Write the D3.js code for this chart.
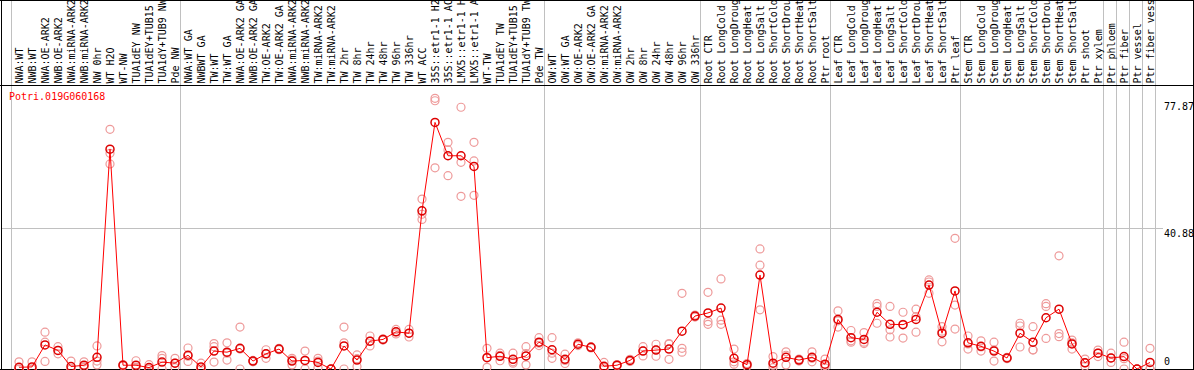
<!DOCTYPE html>
<html><head><meta charset="utf-8">
<script src="https://cdn.jsdelivr.net/npm/d3@7"></script>
<style>
body{margin:0;background:#fff}
svg{display:block}
text{font-family:"DejaVu Sans Mono",monospace;font-size:10px}
</style>
</head><body><svg id="c" width="1194" height="370"></svg>
<script>
const categories = [
"NWA:WT","NWB:WT","NWA:OE-ARK2","NWB:OE-ARK2","NWA:miRNA-ARK2","NWB:miRNA-ARK2","NW 0hr","WT H2O","WT-NW","TUA1dEY NW","TUA1dEY+TUB15","TUA1dY+TUB9 NW","Pde NW",
"NWA:WT GA","NWBWT GA","TW:WT","TW:WT GA","NWA:OE-ARK2 GA","NWB:OE-ARK2 GA","TW:OE-ARK2","TW:OE-ARK2 GA","NWA:miRNA-ARK2","NWB:miRNA-ARK2","TW:miRNA-ARK2","TW:miRNA-ARK2","TW 2hr","TW 8hr","TW 24hr","TW 48hr","TW 96hr","TW 336hr","WT ACC","35S::etr1-1 H2O","35S::etr1-1 ACC","LMX5::etr1-1 H2O","LMX5::etr1-1 ACC","WT-TW","TUA1dEY TW","TUA1dEY+TUB15","TUA1dY+TUB9 TW","Pde TW",
"OW:WT","OW:WT GA","OW:OE-ARK2","OW:OE-ARK2 GA","OW:miRNA-ARK2","OW:miRNA-ARK2","OW 2hr","OW 8hr","OW 24hr","OW 48hr","OW 96hr","OW 336hr",
"Root CTR","Root LongCold","Root LongDrought","Root LongHeat","Root LongSalt","Root ShortCold","Root ShortDrought","Root ShortHeat","Root ShortSalt","Ptr root",
"Leaf CTR","Leaf LongCold","Leaf LongDrought","Leaf LongHeat","Leaf LongSalt","Leaf ShortCold","Leaf ShortDrought","Leaf ShortHeat","Leaf ShortSalt","Ptr leaf",
"Stem CTR","Stem LongCold","Stem LongDrought","Stem LongHeat","Stem LongSalt","Stem ShortCold","Stem ShortDrought","Stem ShortHeat","Stem ShortSalt","Ptr shoot","Ptr xylem",
"Ptr phloem","Ptr fiber","Ptr vessel","Ptr fiber vessel"];

const means = [
0.5,0.6,7.0,5.4,0.7,1.1,3.4,63.9,1.1,1.1,0.4,2.0,1.7,
4.0,0.6,5.2,4.9,6.0,2.3,4.4,5.8,2.3,2.5,1.9,0,6.7,2.6,8.1,8.6,10.8,10.4,46.0,71.7,62.0,62.0,58.9,3.3,3.7,2.8,3.8,7.8,
5.6,2.8,7.2,6.3,0.8,1.1,2.5,5.2,5.5,5.8,11.0,15.4,
16.3,17.7,3.1,1.25,27.3,1.7,3.4,2.6,3.4,1.4,
14.4,9.1,8.6,16.5,13.0,12.9,14.4,24.4,10.4,22.7,
7.6,6.6,5.2,3.2,10.4,7.8,14.9,17.4,7.3,1.8,4.6,
3.2,3.6,0,1.9];

const rep1 = [
2.1,2.1,10.7,6.5,2.3,2.1,6.7,69.7,1.3,2.4,1.25,3.9,3.1,
6.1,1.7,7.4,7.6,12.2,2.5,5.6,6.0,3.1,5.2,3.1,0,12.2,4.1,9.6,8.8,11.5,11.5,49.4,78.7,65.9,76.1,65.9,6.0,4.6,4.6,6.5,9.1,
9.1,4.3,7.6,6.5,1.9,1.3,2.8,6.5,7.2,7.4,22.0,15.7,
22.3,26.2,5.8,1.6,34.9,3.6,5.0,2.9,5.0,2.9,
16.9,11.2,10.6,19.0,18.2,16.5,17.4,25.9,12.3,38.0,
9.6,8.2,7.8,3.4,13.3,12.3,19.0,32.9,8.4,2.9,5.5,
4.6,7.8,0,6.0];

const rep2 = [
0,0,7.8,5.4,0,0.6,2.3,62.7,1.0,0.5,0,3.1,1.7,
3.7,0,6.5,4.6,5.8,2.3,4.4,5.8,2.6,2.4,2.3,0,7.6,3.0,8.1,8.6,10.8,10.4,45.0,78.0,63.7,60.1,60.5,3.4,4.0,2.1,4.5,7.5,
4.6,2.5,7.2,6.3,0.5,1.0,2.5,5.3,5.6,7.2,6.0,15.4,
13.8,14.2,2.1,1.4,30.2,1.1,4.0,2.6,3.1,1.0,
14.0,8.2,7.8,18.2,11.4,13.0,15.2,25.3,11.0,18.6,
7.3,6.4,5.5,3.2,12.5,5.6,18.2,10.3,7.6,1.8,4.6,
3.2,3.0,0,0];

const rep3 = [
0,0,2.2,4.4,0,0.5,1.2,59.6,1.0,0.5,0,0,0.4,
2.2,0,2.0,2.6,0,2.1,3.1,5.6,1.2,0,0.4,0,0,0.7,6.7,8.4,10.2,9.3,43.5,58.5,56.2,50.2,50.5,0.5,2.4,1.7,1.2,6.8,
3.1,1.6,6.8,6.1,0,1.0,2.2,3.8,3.7,2.8,4.9,15.1,
13.0,13.0,1.4,0.7,17.2,0.4,1.2,2.3,2.1,0.3,
12.2,7.8,7.4,13.3,9.3,9.0,10.7,22.0,7.9,11.6,
5.8,5.2,2.3,3.0,6.4,5.5,8.9,9.4,5.8,0.8,3.6,
1.9,0,0,0];

const yTicks = [0, 40.88, 77.87];
const gridTicks = [40.88];
const groupStarts = [0,13,41,53,63,73,84,85,86,87];
const geneName = "Potri.019G060168";

const svg = d3.select("#c");
const x = d3.scaleBand().domain(d3.range(categories.length)).range([11,1155]).padding(0);
const px = i => x(i) + 8;
const y = d3.scaleLinear().domain([0, 40.88]).range([369, 228.4]);

// vertical group lines
const vx = groupStarts.map(i => x(i)).concat([x.range()[1]]);
svg.append("g").selectAll("line").data(vx).join("line")
  .attr("x1", d => Math.round(d) + 0.5).attr("x2", d => Math.round(d) + 0.5)
  .attr("y1", 0).attr("y2", 370)
  .attr("stroke", "#c0c0c0").attr("stroke-width", 1).attr("shape-rendering","crispEdges");

// horizontal grid
svg.append("g").selectAll("line").data(gridTicks).join("line")
  .attr("x1", 1).attr("x2", 1163)
  .attr("y1", d => Math.round(y(d)) + 0.5).attr("y2", d => Math.round(y(d)) + 0.5)
  .attr("stroke", "#c0c0c0").attr("shape-rendering","crispEdges");

// frame
const fr = svg.append("g").attr("stroke","#000").attr("shape-rendering","crispEdges");
fr.append("line").attr("x1",0).attr("x2",1194).attr("y1",0.5).attr("y2",0.5);
fr.append("line").attr("x1",0).attr("x2",1194).attr("y1",85.5).attr("y2",85.5);
fr.append("line").attr("x1",0).attr("x2",1194).attr("y1",369.5).attr("y2",369.5);
fr.append("line").attr("x1",1.5).attr("x2",1.5).attr("y1",0).attr("y2",370);
fr.append("line").attr("x1",1193.5).attr("x2",1193.5).attr("y1",0).attr("y2",370);

// category labels
svg.append("g").selectAll("text").data(categories).join("text")
  .attr("transform", (d,i) => `translate(${px(i)+3.5},83.5) rotate(-90)`)
  .attr("fill","#000")
  .text(d => d);

// title
svg.append("text").attr("x", 9).attr("y", 100).attr("fill", "#ff0000").text(geneName);

// right tick labels
svg.append("g").selectAll("text").data(yTicks).join("text")
  .attr("x", 1164)
  .attr("y", d => d === 0 ? y(d) - 4 : y(d) + 8.5)
  .attr("fill","#000")
  .text(d => d === 0 ? "0" : d.toFixed(2));

// replicates
const reps = [];
[rep1, rep2, rep3].forEach(r => r.forEach((v,i) => reps.push({i, v})));
svg.append("g").selectAll("circle").data(reps).join("circle")
  .attr("cx", d => px(d.i)).attr("cy", d => y(d.v)).attr("r", 4)
  .attr("fill","none").attr("stroke","#ee9a9a").attr("stroke-width",1.2);

// mean line
const line = d3.line().x((d,i) => px(i)).y(d => y(d));
svg.append("path").datum(means).attr("d", line)
  .attr("fill","none").attr("stroke","#ff0000").attr("stroke-width",1);

// mean circles
svg.append("g").selectAll("circle").data(means).join("circle")
  .attr("cx", (d,i) => px(i)).attr("cy", d => y(d)).attr("r", 4)
  .attr("fill","none").attr("stroke","#dd0000").attr("stroke-width",1.5);
</script>
</body></html>
